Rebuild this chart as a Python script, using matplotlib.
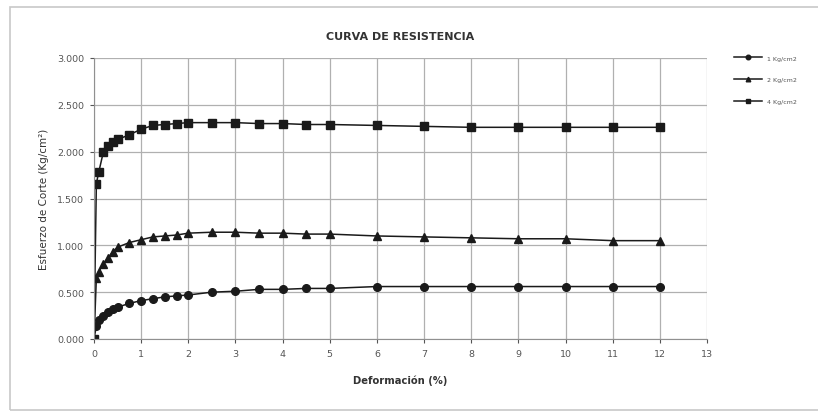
import numpy as np
import matplotlib
matplotlib.use("Agg")
import matplotlib.pyplot as plt
from matplotlib.patches import Rectangle
from matplotlib.ticker import FuncFormatter

# Deformacion (%) de cada lectura
deformacion = [0, 0.05, 0.1, 0.2, 0.3, 0.4, 0.5, 0.75, 1.0, 1.25, 1.5, 1.75, 2.0,
               2.5, 3, 3.5, 4, 4.5, 5, 6, 7, 8, 9, 10, 11, 12]

# Esfuerzo de corte (Kg/cm2) para cada esfuerzo normal
corte_1 = [0, 0.14, 0.20, 0.25, 0.29, 0.32, 0.34, 0.38, 0.41, 0.43, 0.45, 0.46, 0.47,
           0.50, 0.51, 0.53, 0.53, 0.54, 0.54, 0.56, 0.56, 0.56, 0.56, 0.56, 0.56, 0.56]
corte_2 = [0, 0.65, 0.72, 0.80, 0.87, 0.93, 0.98, 1.03, 1.06, 1.09, 1.10, 1.11, 1.13,
           1.14, 1.14, 1.13, 1.13, 1.12, 1.12, 1.10, 1.09, 1.08, 1.07, 1.07, 1.05, 1.05]
corte_4 = [0, 1.66, 1.78, 2.00, 2.06, 2.10, 2.13, 2.18, 2.24, 2.28, 2.29, 2.30, 2.31,
           2.31, 2.31, 2.30, 2.30, 2.29, 2.29, 2.28, 2.27, 2.26, 2.26, 2.26, 2.26, 2.26]

etiquetas = ["1 Kg/cm2", "2 Kg/cm2", "4 Kg/cm2"]
x_ticks = list(range(0, 14))
y_ticks = [0, 0.5, 1.0, 1.5, 2.0, 2.5, 3.0]

fig = plt.figure(figsize=(8.18, 4.14), dpi=100)
# marco exterior del grafico (sale por la derecha)
fig.patches.append(Rectangle((10 / 818, 1 - 411 / 414), 1.0, 403 / 414,
                             transform=fig.transFigure, fill=False,
                             edgecolor="#c8c8c8", linewidth=1.2))

ax = fig.add_axes([94 / 818, 1 - 340 / 414, (707 - 94) / 818, (340 - 59) / 414])

ax.plot(deformacion, corte_1, color="#1a1a1a", lw=1.1, marker="o", ms=5.5, label=etiquetas[0])
ax.plot(deformacion, corte_2, color="#1a1a1a", lw=1.1, marker="^", ms=5.5, label=etiquetas[1])
ax.plot(deformacion, corte_4, color="#1a1a1a", lw=1.1, marker="s", ms=5.5, label=etiquetas[2])

ax.set_xlim(0, 13)
ax.set_ylim(0, 3.0)
ax.set_xticks(x_ticks)
ax.set_yticks(y_ticks)
ax.yaxis.set_major_formatter(FuncFormatter(lambda v, p: "{:.3f}".format(v)))
ax.grid(True, color="#b0b0b0", linewidth=0.9)
ax.set_axisbelow(True)
for s in ["top", "right"]:
    ax.spines[s].set_visible(False)
ax.spines["left"].set_color("#909090")
ax.spines["bottom"].set_color("#909090")
ax.tick_params(labelsize=6.8, colors="#555555", length=3, width=0.8, pad=4)

ax.set_title("CURVA DE RESISTENCIA", fontsize=8, fontweight="bold", color="#333333", pad=14)
ax.set_xlabel("Deformación (%)", fontsize=7.2, fontweight="bold", color="#333333", labelpad=12)
ax.set_ylabel("Esfuerzo de Corte (Kg/cm²)", fontsize=7.5, color="#333333", labelpad=6)

ax.legend(loc="upper left", bbox_to_anchor=(1.035, 1.03), frameon=False, fontsize=4.5,
          handlelength=4.5, labelspacing=2.6, markerscale=0.6, labelcolor="#555555")

fig.savefig("out.png", dpi=100)
